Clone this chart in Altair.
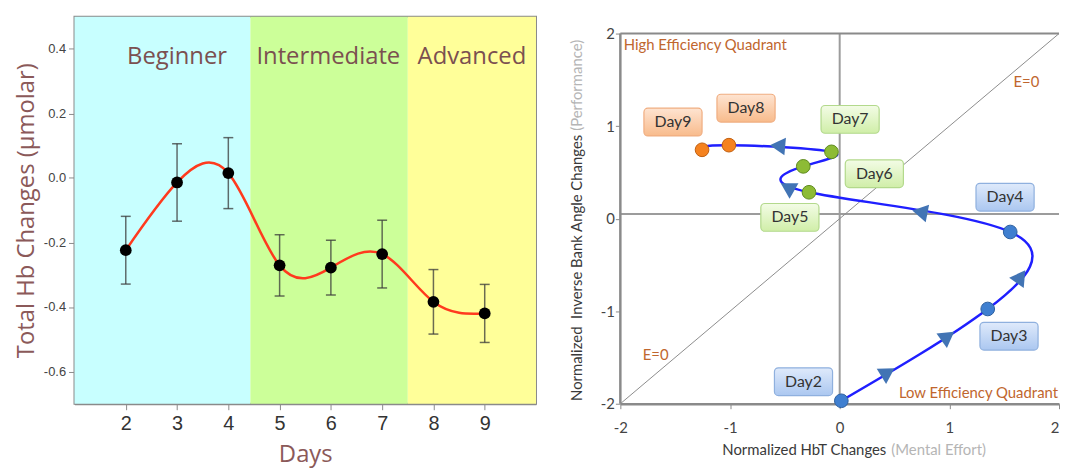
import altair as alt
import pandas as pd

# ---------------- left panel data ----------------
days = [2, 3, 4, 5, 6, 7, 8, 9]
hb_mean = [-0.224, -0.014, 0.015, -0.271, -0.278, -0.236, -0.384, -0.420]
hb_err = [0.105, 0.12, 0.11, 0.095, 0.085, 0.105, 0.10, 0.09]
y_ticks = [-0.6, -0.4, -0.2, 0.0, 0.2, 0.4]

phase_names = ["Beginner", "Intermediate", "Advanced"]
phase_start = [1.0, 4.43, 7.5]
phase_end = [4.43, 7.5, 10.0]
phase_label_x = [3.0, 5.95, 8.75]
phase_label_y = [0.375, 0.375, 0.375]
phase_colors = ["#c8ffff", "#ccff99", "#ffff99"]

# ---------------- right panel data ----------------
traj_day = ["Day2", "Day3", "Day4", "Day5", "Day6", "Day7", "Day8", "Day9"]
traj_order = [2, 3, 4, 5, 6, 7, 8, 9]
effort = [0.015, 1.35, 1.555, -0.28, -0.332, -0.075, -1.01, -1.255]
perf = [-1.968, -0.976, -0.144, 0.285, 0.565, 0.722, 0.794, 0.744]
stage = ["Beginner"] * 3 + ["Intermediate"] * 3 + ["Advanced"] * 2
label_x = [-0.33, 1.544, 1.508, -0.454, 0.316, 0.095, -0.854, -1.52]
label_y = [-1.762, -1.27, 0.232, 0.014, 0.486, 1.073, 1.194, 1.044]

arrow_x = [0.44, 0.987, 1.652, 0.731, -0.477, -0.567]
arrow_y = [-1.66, -1.27, -0.626, 0.071, 0.34, 0.787]
arrow_angle = [58, 54, 35, 281, 300, 275]

r_ticks = [-2, -1, 0, 1, 2]
hline_y = [0.05]
vline = {"x": [0.0], "y1": [-2.0], "y2": [2.0]}
left_border = {"x": [-2.0], "y1": [-2.0], "y2": [2.0]}
top_y = [2.0]
diag = {"x1": [-2.0], "y1": [-2.0], "x2": [2.0], "y2": [2.0]}

note_text = ["High Efficiency Quadrant", "Low Efficiency Quadrant", "E=0", "E=0"]
note_x = [-1.97, 0.54, 1.585, -1.796]
note_y = [1.878, -1.885, 1.473, -1.477]

stage_dom = ["Beginner", "Intermediate", "Advanced"]
stage_fill = ["#3f7fd0", "#8dbb35", "#f5821f"]
stage_stroke = ["#2c5f9e", "#5f8a1e", "#c05f10"]
box_top = ["#dfeafb", "#f3fce6", "#fee4d1"]
box_bottom = ["#abc7f0", "#d0eea8", "#f8bb8c"]
box_stroke = ["#8fb0de", "#b3d98c", "#f0ad80"]

# ---------------- left panel ----------------
left_df = pd.DataFrame({"day": days, "mean": hb_mean, "err": hb_err})
left_df["lo"] = left_df["mean"] - left_df["err"]
left_df["hi"] = left_df["mean"] + left_df["err"]
phase_df = pd.DataFrame({"phase": phase_names, "start": phase_start, "end": phase_end,
                         "lx": phase_label_x, "ly": phase_label_y})

lxs = alt.Scale(domain=[1, 10], nice=False, zero=False)
lys = alt.Scale(domain=[-0.7, 0.5], nice=False, zero=False)
ax_lx = alt.Axis(values=days, title="Days", labelFontSize=20, labelFont="Liberation Sans",
                 labelColor="#333333", titleFont="Open Sans", titleFontSize=24, titleColor="#8b5959",
                 titleFontWeight="normal", domainColor="#8a8a8a", domainWidth=2,
                 tickColor="#8a8a8a", tickSize=6, grid=False, labelPadding=4, titlePadding=9)
ax_ly = alt.Axis(values=y_ticks, labelExpr="replace(format(datum.value, '.1f'), '\u2212', '-')",
                 title="Total Hb Changes (\u00b5molar)", labelFontSize=13, labelFont="Liberation Sans",
                 labelColor="#444444", titleFont="Open Sans", titleFontSize=24, titleColor="#8b5959",
                 titleFontWeight="normal", domainColor="#8a8a8a", domainWidth=2,
                 tickColor="#8a8a8a", tickSize=6, grid=False, labelPadding=3, titlePadding=5)

bg = alt.Chart(phase_df).mark_rect().encode(
    x=alt.X("start:Q", scale=lxs, axis=ax_lx),
    x2="end:Q",
    color=alt.Color("phase:N", scale=alt.Scale(domain=phase_names, range=phase_colors), legend=None),
)
phase_text = alt.Chart(phase_df).mark_text(font="Open Sans", fontSize=24, color="#7b5050").encode(
    x=alt.X("lx:Q", scale=lxs, axis=ax_lx),
    y=alt.Y("ly:Q", scale=lys, axis=ax_ly),
    text="phase:N",
)
err_rule = alt.Chart(left_df).mark_rule(color="#3a3a3a", opacity=0.75, strokeWidth=1.5).encode(
    x=alt.X("day:Q", scale=lxs, axis=ax_lx),
    y=alt.Y("lo:Q", scale=lys, axis=ax_ly),
    y2="hi:Q",
)
err_cap = alt.Chart(left_df).transform_fold(["lo", "hi"], as_=["k", "v"]).mark_tick(
    orient="horizontal", size=10, thickness=1.5, color="#3a3a3a", opacity=0.75).encode(
    x=alt.X("day:Q", scale=lxs, axis=ax_lx),
    y=alt.Y("v:Q", scale=lys, axis=ax_ly),
)
hb_line = alt.Chart(left_df).mark_line(interpolate="natural", color="#ff3a1e", strokeWidth=2.5).encode(
    x=alt.X("day:Q", scale=lxs, axis=ax_lx),
    y=alt.Y("mean:Q", scale=lys, axis=ax_ly),
)
hb_pts = alt.Chart(left_df).mark_circle(size=140, color="black", opacity=1).encode(
    x=alt.X("day:Q", scale=lxs, axis=ax_lx),
    y=alt.Y("mean:Q", scale=lys, axis=ax_ly),
)
left = alt.layer(bg, phase_text, err_rule, err_cap, hb_line, hb_pts).properties(
    width=465, height=390, view=alt.ViewBackground(stroke="#8a8a8a", strokeWidth=2))

# ---------------- right panel ----------------
traj_df = pd.DataFrame({"day": traj_day, "order": traj_order, "effort": effort, "perf": perf,
                        "stage": stage, "lx": label_x, "ly": label_y})
arrow_df = pd.DataFrame({"ax": arrow_x, "ay": arrow_y, "ang": arrow_angle})
note_df = pd.DataFrame({"t": note_text, "x": note_x, "y": note_y})
one = pd.DataFrame({"i": [0]})

rxs = alt.Scale(domain=[-2, 2], nice=False, zero=False)
# a little head room above y=2 so that the right plot frame sits lower than the left one
rys = alt.Scale(domain=[-2, 2.1824], nice=False, zero=False)
ax_rx = alt.Axis(values=r_ticks, labelExpr="replace(format(datum.value, 'd'), '\u2212', '-')",
                 title=None, labelFontSize=15, labelFont="Lato", labelColor="#444444",
                 domainColor="#8a8a8a", domainWidth=2.5, tickColor="#8a8a8a", tickSize=5,
                 grid=False, labelPadding=12, labelFlush=False,
                 labelAlign={"condition": {"test": "datum.value >= 2", "value": "right"},
                             "value": "center"})
ax_ry = alt.Axis(values=r_ticks, labelExpr="replace(format(datum.value, 'd'), '\u2212', '-')",
                 title=None, labelFontSize=15, labelFont="Lato", labelColor="#444444",
                 domain=False, tickColor="#8a8a8a", tickSize=5,
                 grid=False, labelPadding=1)

hline = alt.Chart(pd.DataFrame({"y": hline_y})).mark_rule(color="#9c9c9c", strokeWidth=2).encode(
    y=alt.Y("y:Q", scale=rys, axis=ax_ry))
vline_m = alt.Chart(pd.DataFrame(vline)).mark_rule(color="#9c9c9c", strokeWidth=2).encode(
    x=alt.X("x:Q", scale=rxs, axis=ax_rx), y=alt.Y("y1:Q", scale=rys, axis=ax_ry), y2="y2:Q")
lborder = alt.Chart(pd.DataFrame(left_border)).mark_rule(color="#8a8a8a", strokeWidth=2.5).encode(
    x=alt.X("x:Q", scale=rxs, axis=ax_rx), y=alt.Y("y1:Q", scale=rys, axis=ax_ry), y2="y2:Q")
topline = alt.Chart(pd.DataFrame({"y": top_y})).mark_rule(color="#8a8a8a", strokeWidth=2).encode(
    y=alt.Y("y:Q", scale=rys, axis=ax_ry))
diag_line = alt.Chart(pd.DataFrame(diag)).mark_rule(color="#8c8c8c", strokeWidth=1).encode(
    x=alt.X("x1:Q", scale=rxs, axis=ax_rx), y=alt.Y("y1:Q", scale=rys, axis=ax_ry),
    x2="x2:Q", y2="y2:Q")
notes = alt.Chart(note_df).mark_text(font="Lato", fontSize=15, color="#c0662e", align="left",
                                     baseline="middle").encode(
    x=alt.X("x:Q", scale=rxs, axis=ax_rx), y=alt.Y("y:Q", scale=rys, axis=ax_ry), text="t:N")


def label_boxes(k):
    grad = alt.Gradient(gradient="linear",
                        stops=[alt.GradientStop(color=box_top[k], offset=0),
                               alt.GradientStop(color=box_bottom[k], offset=1)],
                        x1=0, x2=0, y1=0, y2=1)
    return alt.Chart(traj_df).transform_filter(
        alt.datum.stage == stage_dom[k]
    ).transform_calculate(
        bx1="datum.lx - 0.265", bx2="datum.lx + 0.265", by1="datum.ly - 0.15", by2="datum.ly + 0.15"
    ).mark_rect(cornerRadius=4, strokeWidth=1.2, fill=grad, stroke=box_stroke[k]).encode(
        x=alt.X("bx1:Q", scale=rxs, axis=ax_rx), x2="bx2:Q",
        y=alt.Y("by1:Q", scale=rys, axis=ax_ry), y2="by2:Q",
    )


box_layers = [label_boxes(k) for k in range(3)]
box_text = alt.Chart(traj_df).mark_text(font="Lato", fontSize=16, color="#333333").encode(
    x=alt.X("lx:Q", scale=rxs, axis=ax_rx), y=alt.Y("ly:Q", scale=rys, axis=ax_ry), text="day:N")

traj = alt.Chart(traj_df).mark_line(interpolate="natural", color="#1f1fff", strokeWidth=2.5).encode(
    x=alt.X("effort:Q", scale=rxs, axis=ax_rx), y=alt.Y("perf:Q", scale=rys, axis=ax_ry),
    order="order:Q")
arrows = alt.Chart(arrow_df).mark_point(shape="triangle-up", filled=True, size=320, opacity=1,
                                        color="#4274b4").encode(
    x=alt.X("ax:Q", scale=rxs, axis=ax_rx), y=alt.Y("ay:Q", scale=rys, axis=ax_ry),
    angle=alt.Angle("ang:Q", scale=None))
pts = alt.Chart(traj_df).mark_point(shape="circle", filled=True, size=190, opacity=1,
                                    strokeWidth=1).encode(
    x=alt.X("effort:Q", scale=rxs, axis=ax_rx), y=alt.Y("perf:Q", scale=rys, axis=ax_ry),
    fill=alt.Fill("stage:N", scale=alt.Scale(domain=stage_dom, range=stage_fill), legend=None),
    stroke=alt.Stroke("stage:N", scale=alt.Scale(domain=stage_dom, range=stage_stroke), legend=None),
)

xt_dark = alt.Chart(one).mark_text(text="Normalized HbT Changes", font="Lato", fontSize=15,
                                   color="#3a3a3a", align="right", baseline="middle").encode(
    x=alt.value(268), y=alt.value(437))
xt_light = alt.Chart(one).mark_text(text="(Mental Effort)", font="Lato", fontSize=15,
                                    color="#b5b5b5", align="left", baseline="middle").encode(
    x=alt.value(273), y=alt.value(437))
yt_dark = alt.Chart(one).mark_text(text="Normalized\u00a0 Inverse Bank Angle Changes",
                                   font="Lato", fontSize=15, color="#3a3a3a", align="right",
                                   baseline="middle", angle=270).encode(
    x=alt.value(-44), y=alt.value(119))
yt_light = alt.Chart(one).mark_text(text="(Performance)", font="Lato", fontSize=15,
                                    color="#b5b5b5", align="left", baseline="middle",
                                    angle=270).encode(x=alt.value(-44), y=alt.value(115))

right = alt.layer(hline, vline_m, lborder, topline, diag_line, notes, *box_layers, box_text, traj,
                  arrows, pts, xt_dark, xt_light, yt_dark, yt_light).resolve_scale(
    fill="independent", stroke="independent").properties(
    width=442, height=390, view=alt.ViewBackground(stroke="transparent"))

chart = alt.hconcat(left, right, spacing=32).properties(
    padding={"left": 5, "top": 6, "right": 0, "bottom": 0}
).configure(font="Lato")

chart.save("out.html", embed_options={"renderer": "svg", "actions": False})
